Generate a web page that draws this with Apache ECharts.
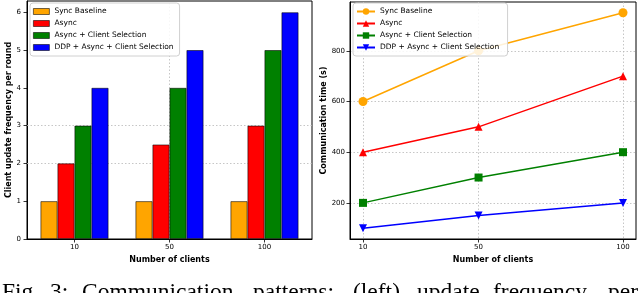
<!DOCTYPE html>
<html><head><meta charset="utf-8">
<script src="https://cdn.jsdelivr.net/npm/echarts@6/dist/echarts.min.js"></script>
<style>html,body{margin:0;padding:0;background:#fff;overflow:hidden}#c{width:640px;height:293px}</style>
</head><body><div id="c"></div>
<script>
const clients = ['10', '50', '100'];
const clientNums = [10, 50, 100];
const seriesNames = ['Sync Baseline', 'Async', 'Async + Client Selection', 'DDP + Async + Client Selection'];
const freqSync = [1, 1, 1];
const freqAsync = [2, 2.5, 3];
const freqAsyncCS = [3, 4, 5];
const freqDDP = [4, 5, 6];
const timeSync = [600, 800, 950];
const timeAsync = [400, 500, 700];
const timeAsyncCS = [200, 300, 400];
const timeDDP = [100, 150, 200];
const freqTicks = [0, 1, 2, 3, 4, 5, 6];
const freqGridVisible = [2, 3];
const clientGridVisible = ['50'];
const timeTicks = [200, 400, 600, 800];
const captionWords = ['Fig.', '3:', 'Communication', 'patterns:', '(left)', 'update', 'frequency', 'per'];

const colors = ['#ffa500', '#ff0000', '#008000', '#0000ff'];
const FONT = 'DejaVu Sans';
const freqData = [freqSync, freqAsync, freqAsyncCS, freqDDP];
const timeData = [timeSync, timeAsync, timeAsyncCS, timeDDP];
const symbols = ['circle', 'triangle', 'rect', 'triangle'];
const symbolRot = [0, 0, 0, 180];
const symbolSizes = [9, 8, 8, 8];
const captionX = [2, 50, 82, 253, 353, 417, 493, 608];
const rightName = n => n + ' ';

const gridLineStyle = {color: '#b8b8b8', type: [1.5, 2], width: 0.8};
const gridLine = {show: true, lineStyle: gridLineStyle};
const axisLineStyle = {show: true, lineStyle: {color: '#000', width: 1}};
const tickStyle = {show: true, length: 3.5, lineStyle: {color: '#000', width: 0.8}};
const labelStyle = {fontFamily: FONT, fontSize: 7, color: '#000'};
const nameStyle = {fontFamily: FONT, fontSize: 8, fontWeight: 'bold', color: '#000'};

const series = [];
series.push({
  type: 'line', name: '_grid', xAxisIndex: 0, yAxisIndex: 0, data: [], z: 1,
  markLine: {
    silent: true, symbol: 'none', label: {show: false}, z: 1,
    lineStyle: gridLineStyle,
    data: clientGridVisible.map(c => ({xAxis: c})).concat(freqGridVisible.map(v => ({yAxis: v})))
  }
});
freqData.forEach((d, i) => {
  series.push({
    type: 'bar', name: seriesNames[i], xAxisIndex: 0, yAxisIndex: 0,
    data: d, barWidth: 17, barGap: '0%', z: 3,
    itemStyle: {color: colors[i], borderColor: 'rgba(0,0,0,0.7)', borderWidth: 0.8}
  });
});
timeData.forEach((d, i) => {
  series.push({
    type: 'line', name: rightName(seriesNames[i]), xAxisIndex: 1, yAxisIndex: 1,
    data: d.map((v, j) => [clientNums[j], v]),
    symbol: symbols[i], symbolRotate: symbolRot[i], symbolSize: symbolSizes[i],
    lineStyle: {color: colors[i], width: 1.5},
    itemStyle: {color: colors[i]}, z: 3
  });
});

const chart = echarts.init(document.getElementById('c'), null, {renderer: 'canvas'});
chart.setOption({
  animation: false,
  backgroundColor: '#fff',
  grid: [
    {left: 27, top: 1, width: 285, height: 238, show: true, borderColor: '#000', borderWidth: 1, backgroundColor: 'transparent'},
    {left: 350, top: 2, width: 286, height: 237, show: true, borderColor: '#000', borderWidth: 1, backgroundColor: 'transparent'}
  ],
  xAxis: [
    {type: 'category', gridIndex: 0, data: clients, boundaryGap: true,
     name: 'Number of clients', nameLocation: 'middle', nameGap: 14, nameTextStyle: nameStyle,
     axisLine: axisLineStyle, axisTick: Object.assign({alignWithLabel: true}, tickStyle),
     axisLabel: Object.assign({margin: 5}, labelStyle), splitLine: {show: false}},
    {type: 'value', gridIndex: 1, min: 5.5, max: 104.5,
     name: 'Number of clients', nameLocation: 'middle', nameGap: 14, nameTextStyle: nameStyle,
     axisLine: axisLineStyle, axisTick: Object.assign({customValues: clientNums}, tickStyle),
     axisLabel: Object.assign({margin: 5, customValues: clientNums}, labelStyle), splitLine: gridLine}
  ],
  yAxis: [
    {type: 'value', gridIndex: 0, min: 0, max: 6.3,
     name: 'Client update frequency per round', nameLocation: 'middle', nameGap: 14, nameTextStyle: nameStyle,
     axisLine: axisLineStyle, axisTick: Object.assign({customValues: freqTicks}, tickStyle),
     axisLabel: Object.assign({margin: 6, customValues: freqTicks}, labelStyle), splitLine: {show: false}},
    {type: 'value', gridIndex: 1, min: 57.5, max: 992.5,
     name: 'Communication time (s)', nameLocation: 'middle', nameGap: 21, nameTextStyle: nameStyle,
     axisLine: axisLineStyle, axisTick: Object.assign({customValues: timeTicks}, tickStyle),
     axisLabel: Object.assign({margin: 5, customValues: timeTicks}, labelStyle), splitLine: gridLine}
  ],
  legend: [
    {orient: 'vertical', left: 30, top: 3, padding: [4, 6, 4, 3], itemGap: 3,
     itemWidth: 16, itemHeight: 6, itemStyle: {borderWidth: 0.8, borderColor: 'rgba(0,0,0,0.7)'},
     backgroundColor: 'rgba(255,255,255,0.85)', borderColor: '#d0d0d0', borderWidth: 1, borderRadius: 3,
     textStyle: {fontFamily: FONT, fontSize: 7.5, color: '#000', lineHeight: 9},
     data: seriesNames.map(n => ({name: n, icon: 'rect'})), selectedMode: false},
    {orient: 'vertical', left: 353, top: 3, padding: [4, 6, 4, 3], itemGap: 3,
     itemWidth: 18, itemHeight: 8,
     backgroundColor: 'rgba(255,255,255,0.85)', borderColor: '#d0d0d0', borderWidth: 1, borderRadius: 3,
     textStyle: {fontFamily: FONT, fontSize: 7.5, color: '#000', lineHeight: 9},
     data: seriesNames.map(rightName), selectedMode: false}
  ],
  graphic: captionWords.map((w, i) => ({
    type: 'text', left: captionX[i], top: 281, silent: true,
    style: {text: w, fontFamily: 'Liberation Serif', fontSize: 23.5, fill: '#000'}
  })),
  series: series
});
</script></body></html>
